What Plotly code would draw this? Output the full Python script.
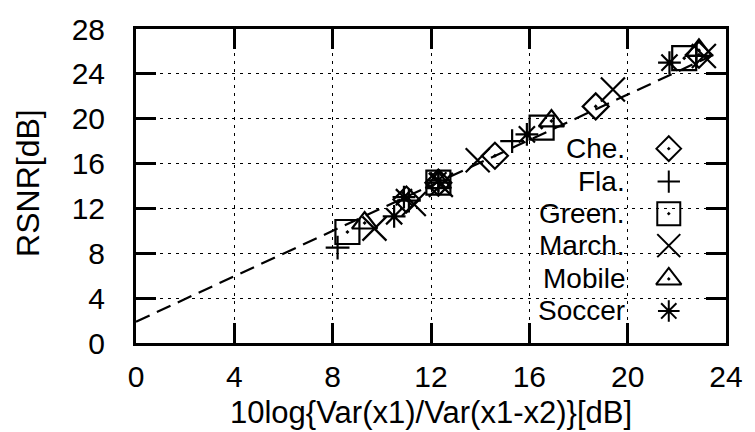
import plotly.graph_objects as go

# ---- data ----
che_x = [11.0, 12.3, 14.6, 18.7, 22.9]
che_y = [12.8, 14.3, 16.7, 21.1, 25.7]
fla_x = [8.2, 11.1, 12.3, 15.3, 22.8]
fla_y = [8.5, 12.7, 14.3, 18.0, 25.6]
green_x = [8.6, 12.3, 16.5, 22.3]
green_y = [9.9, 14.3, 19.2, 25.4]
march_x = [9.7, 11.3, 12.4, 13.9, 19.4, 23.1]
march_y = [10.2, 12.4, 14.1, 16.3, 22.6, 25.6]
mobile_x = [9.3, 12.3, 16.9, 22.9]
mobile_y = [10.7, 14.3, 19.8, 26.1]
soccer_x = [10.5, 10.9, 12.3, 15.9, 21.7]
soccer_y = [11.3, 13.0, 14.5, 18.6, 25.0]
fit_x = [0, 23.7]
fit_y = [1.9, 25.9]

series_names = ["Che.", "Fla.", "Green.", "March.", "Mobile", "Soccer"]
series_symbols = ["diamond-open-dot", "cross-thin-open", "square-open-dot",
                  "x-thin-open", "triangle-up-open-dot", "asterisk-open"]
series_sizes = [20, 17, 24, 24, 22, 19]
series_x = [che_x, fla_x, green_x, march_x, mobile_x, soccer_x]
series_y = [che_y, fla_y, green_y, march_y, mobile_y, soccer_y]

x_ticks = [0, 4, 8, 12, 16, 20, 24]
y_ticks = [0, 4, 8, 12, 16, 20, 24, 28]

FONT = "Liberation Sans, Arial, Helvetica, sans-serif"

fig = go.Figure()

fig.add_trace(go.Scatter(x=fit_x, y=fit_y, mode="lines",
                         line=dict(color="black", width=2.2, dash="15px,8px"),
                         showlegend=False, hoverinfo="skip"))

for name, sym, sz, xs, ys in zip(series_names, series_symbols, series_sizes, series_x, series_y):
    fig.add_trace(go.Scatter(x=xs, y=ys, mode="markers", name=name,
                             marker=dict(symbol=sym, size=sz, color="black",
                                         line=dict(color="black", width=2.2)),
                             showlegend=False))

# custom legend (text left, symbol right) on an overlay paper-like axis
leg_rows = [0.619, 0.514, 0.412, 0.310, 0.204, 0.102]
leg_sym_x = 0.903
leg_txt_x = 0.832
leg_sizes = [19, 16, 23, 23, 22, 18]
for name, sym, sz, ry in zip(series_names, series_symbols, leg_sizes, leg_rows):
    fig.add_trace(go.Scatter(x=[leg_sym_x], y=[ry], mode="markers", xaxis="x2", yaxis="y2",
                             marker=dict(symbol=sym, size=sz, color="black",
                                         line=dict(color="black", width=2)),
                             showlegend=False, hoverinfo="skip"))
    fig.add_annotation(x=leg_txt_x, y=ry, xref="paper", yref="paper", text=name,
                       showarrow=False, xanchor="right", yanchor="middle",
                       font=dict(family=FONT, size=28, color="black"))

axis_common = dict(
    showline=True, linecolor="black", linewidth=3, mirror="ticks",
    ticks="inside", ticklen=20, tickwidth=3, tickcolor="black",
    showgrid=True, gridcolor="black", gridwidth=1.2, griddash="3px,5px",
    zeroline=False,
    tickfont=dict(family=FONT, size=30, color="black"),
)

fig.update_layout(
    width=755, height=432,
    margin=dict(l=136, r=20, t=20, b=89),
    paper_bgcolor="white", plot_bgcolor="white",
    showlegend=False,
    xaxis=dict(range=[0, 24], tickvals=x_ticks, ticklabelstandoff=5, **axis_common),
    yaxis=dict(range=[0, 28], tickvals=y_ticks, ticklabelstandoff=22, **axis_common),
    xaxis2=dict(range=[0, 1], overlaying="x", visible=False, fixedrange=True),
    yaxis2=dict(range=[0, 1], overlaying="y", visible=False, fixedrange=True),
)

fig.add_annotation(x=0.5, y=-0.222, xref="paper", yref="paper",
                   text="10log{Var(x1)/Var(x1-x2)}[dB]", showarrow=False,
                   xanchor="center", yanchor="middle",
                   font=dict(family=FONT, size=31, color="black"))
fig.add_annotation(x=-0.183, y=0.51, xref="paper", yref="paper",
                   text="RSNR[dB]", showarrow=False, textangle=-90,
                   xanchor="center", yanchor="middle",
                   font=dict(family=FONT, size=32, color="black"))

fig.write_html("out.html")
